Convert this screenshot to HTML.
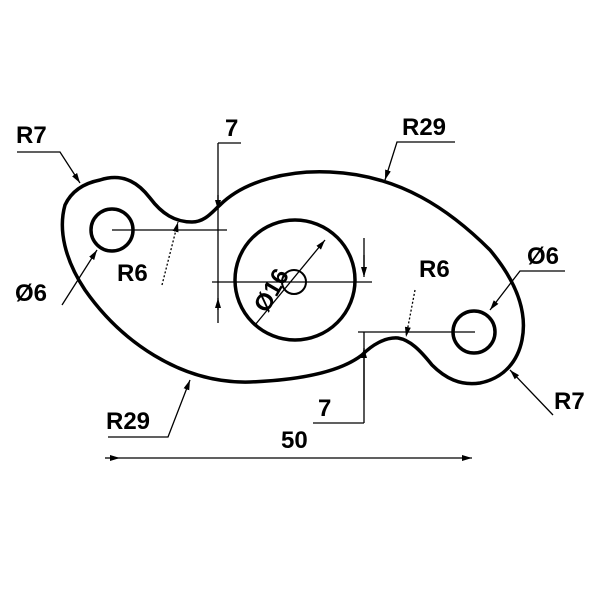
<!DOCTYPE html><html><head><style>body{margin:0;background:#fff}</style></head><body>
<svg width="600" height="600" viewBox="0 0 600 600" xmlns="http://www.w3.org/2000/svg" font-family="Liberation Sans, Arial, sans-serif" font-weight="bold" font-size="24">
<defs><marker id="a" markerWidth="10" markerHeight="6" refX="10" refY="3" orient="auto" markerUnits="userSpaceOnUse"><path d="M0,0L10,3L0,6z" fill="#000"/></marker></defs>
<g fill="none" stroke="#000" stroke-width="3.5">
<path d="M100,180 C125,172 140,185 150,198 C162,214 175,222 192,222 C205,222 212,212 220,205 C245,180 290,170 330,172 C400,175 450,210 490,250 C515,280 528,310 522,340 C518,360 505,378 480,383 C460,386 445,378 432,365 C420,350 410,340 398,338 C385,337 372,345 362,355 C340,372 300,380 250,382 C180,384 120,340 85,290 C65,260 58,230 65,205 C72,190 85,183 100,180 Z"/>
<circle cx="112" cy="230" r="21"/><circle cx="474" cy="332" r="21"/>
<circle cx="295" cy="280" r="60"/><circle cx="294" cy="282" r="12" stroke-width="2"/>
</g>
<g stroke="#000" stroke-width="1.3" fill="none">
<path d="M112,230H227M218,143V323M218,143H241M212,282H372M364,238V275M358,332H475M364,332V423M313,423H364"/>
<path d="M218,195V210" marker-end="url(#a)"/><path d="M218,310V298" marker-end="url(#a)"/><path d="M364,255V277" marker-end="url(#a)"/><path d="M364,400V348" marker-end="url(#a)"/>
<path d="M120,458H472" marker-start="url(#a)" marker-end="url(#a)"/>
<path d="M105,458H120" />
<path d="M17,152H60L80,183" marker-end="url(#a)"/>
<path d="M162,285L178,222" stroke-dasharray="2,2" marker-end="url(#a)"/>
<path d="M62,305L97,250" marker-end="url(#a)"/>
<path d="M108,437H168L190,380" marker-end="url(#a)"/>
<path d="M455,142H397L385,180" marker-end="url(#a)"/>
<path d="M415,290L406,337" stroke-dasharray="2,2" marker-end="url(#a)"/>
<path d="M565,271H520L490,310" marker-end="url(#a)"/>
<path d="M553,415L510,370" marker-end="url(#a)"/>
<path d="M255,325L325,240" marker-end="url(#a)"/>
</g>
<g fill="#000">
<text x="16" y="143">R7</text><text x="225" y="136">7</text>
<text x="117" y="281">R6</text><text x="15" y="301">Ø6</text>
<text x="106" y="429">R29</text><text x="402" y="135">R29</text>
<text x="419" y="277">R6</text><text x="527" y="264">Ø6</text>
<text x="554" y="409">R7</text><text x="318" y="416">7</text><text x="281" y="448">50</text>
<text transform="translate(267,314) rotate(-60)">Ø16</text>
</g>
</svg></body></html>
